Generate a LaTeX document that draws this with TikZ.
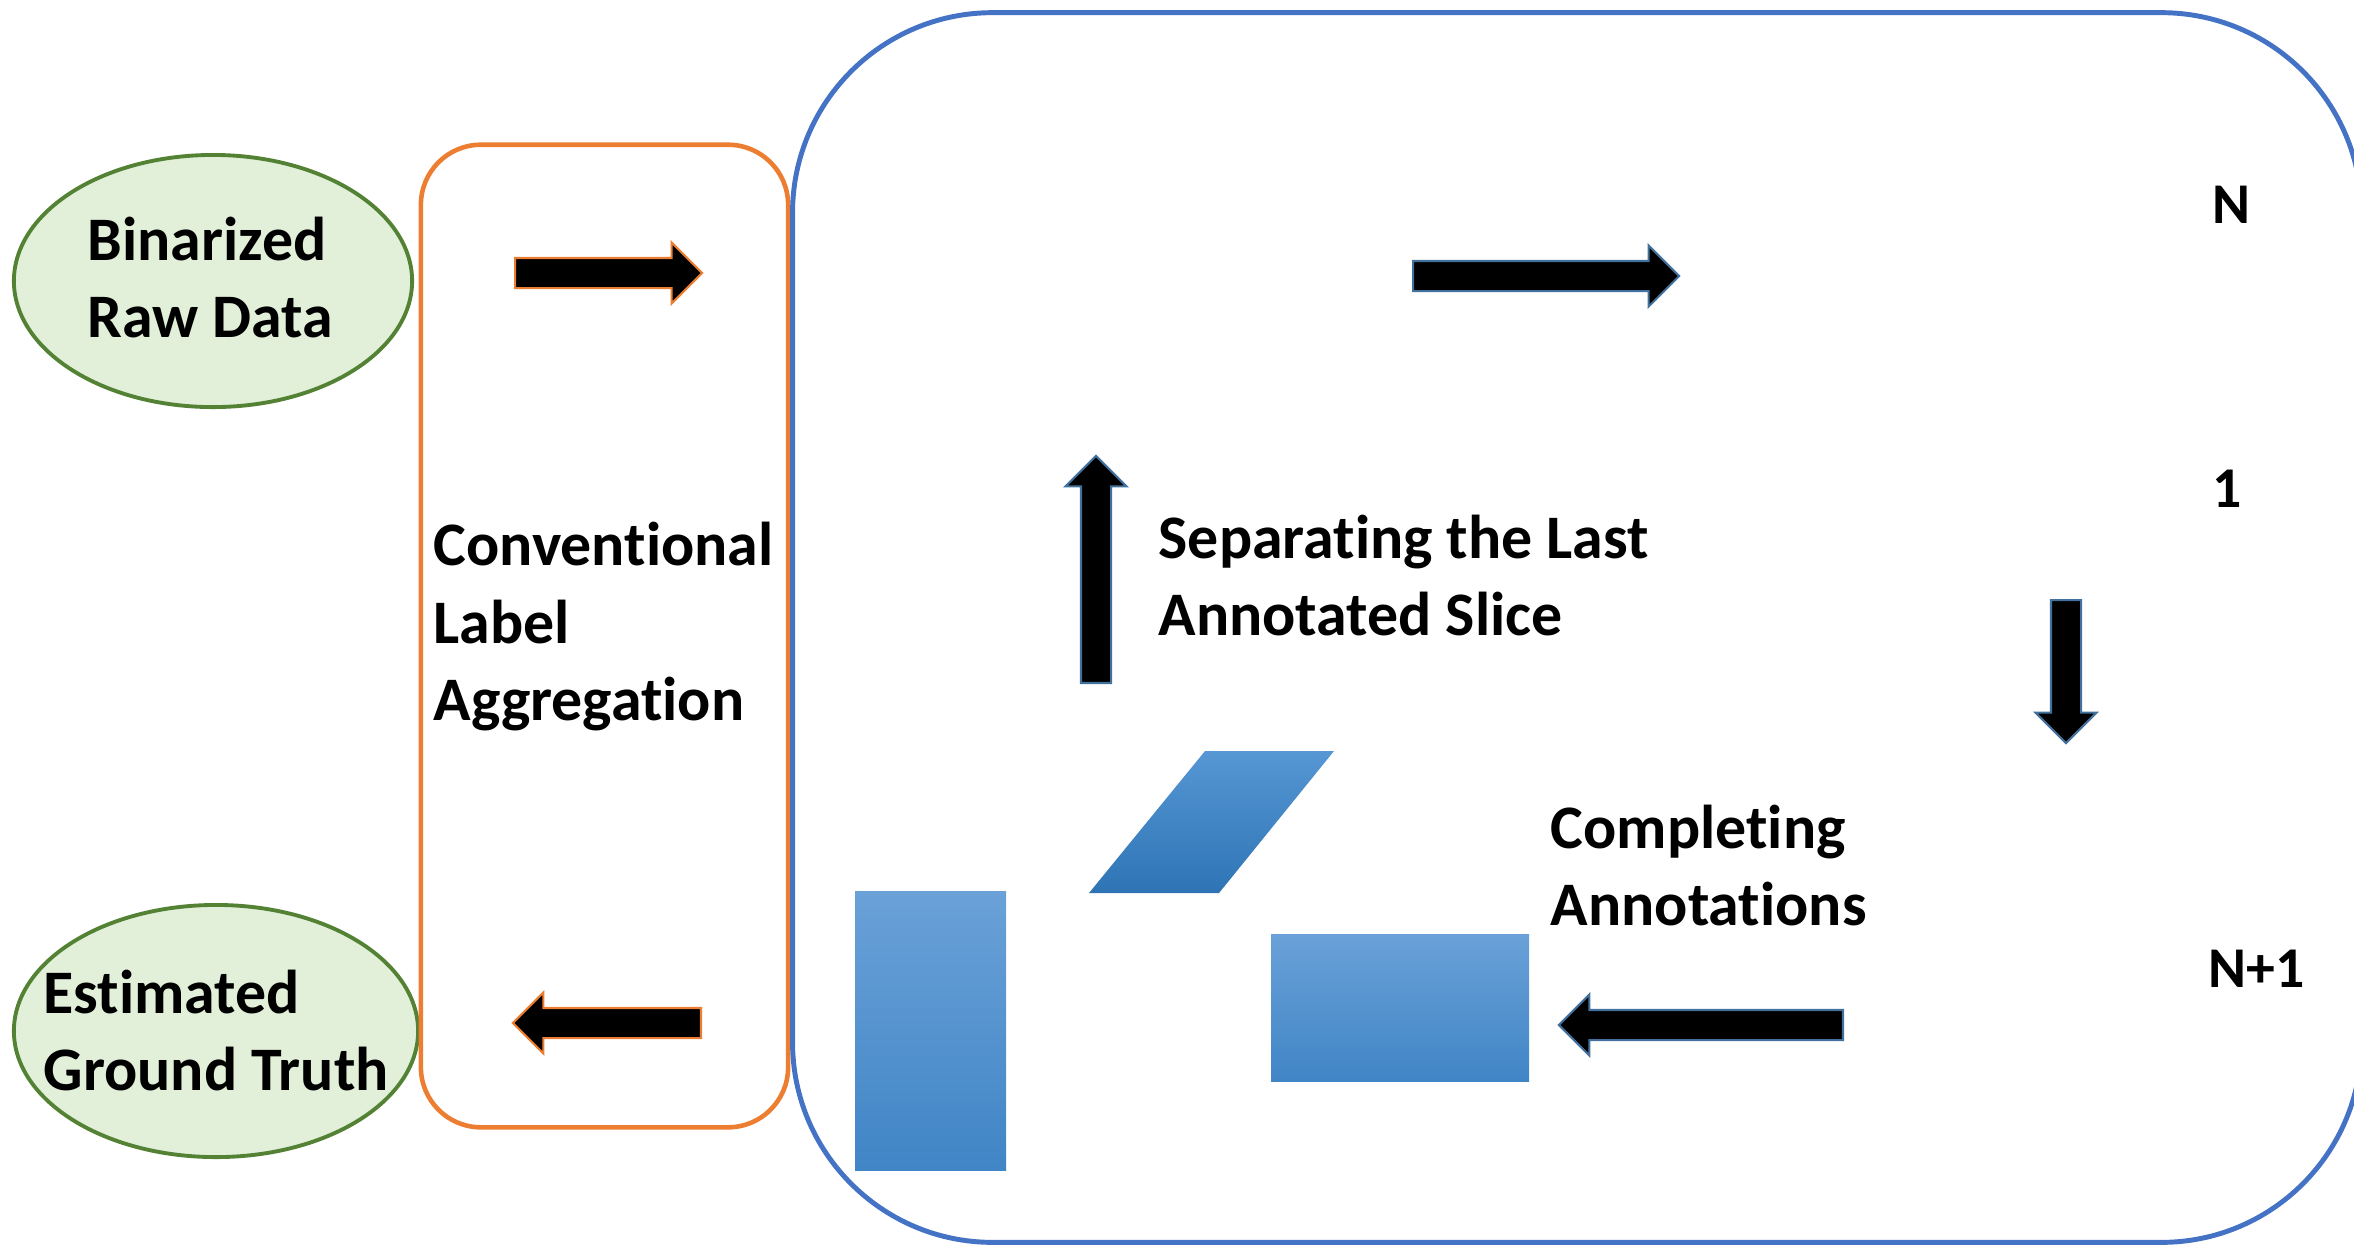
\documentclass[tikz,border=0pt]{standalone}
\usepackage{fontspec}
\setmainfont{Carlito}[Ligatures={NoCommon,NoContextual}]
\usetikzlibrary{shapes.geometric,shapes.arrows}
\definecolor{loopblue}{RGB}{68,114,196}
\definecolor{aggorange}{RGB}{237,125,49}
\definecolor{datagreen}{RGB}{84,130,53}
\definecolor{datafill}{RGB}{226,240,217}
\definecolor{arrowedge}{RGB}{65,113,156}
\definecolor{slicetop}{RGB}{106,161,216}
\definecolor{slicebot}{RGB}{64,133,198}
\definecolor{cuttop}{RGB}{86,151,212}
\definecolor{cutbot}{RGB}{46,116,181}
\begin{document}
\begin{tikzpicture}[x=0.01cm,y=-0.01cm,
    data/.style={ellipse,draw=datagreen,fill=datafill,line width=1.1pt,minimum width=3.98cm,minimum height=2.52cm,inner sep=0},
    lbl/.style={align=left,anchor=base west,inner sep=0,font=\bfseries\fontsize{17.6}{21.9}\selectfont},
    num/.style={anchor=base west,inner sep=0,font=\bfseries\fontsize{16.4}{19.7}\selectfont},
    blockarrow/.style={single arrow,fill=black,draw=arrowedge,line width=0.6pt,inner sep=0.14cm,single arrow head extend=0.155cm,anchor=tail}]
    \useasboundingbox (0,0) rectangle (2354,1244);
    \node[data] (raw) at (213,281) {};
    \node[data,minimum width=4.04cm] (truth) at (216,1031) {};
    \node[lbl] (rawtext) at (87,337) {Binarized\\Raw Data};
    \node[lbl] (truthtext) at (43,1090) {Estimated\\Ground Truth};
    \node[draw=aggorange,line width=1.3pt,rounded corners=0.6cm,minimum width=3.67cm,minimum height=9.82cm] (agg) at (604.5,636) {};
    \node[lbl] (aggtext) at (433,720) {Conventional\\Label\\Aggregation};
    \node[draw=loopblue,line width=1.4pt,rounded corners=2cm,minimum width=15.68cm,minimum height=12.29cm] (loop) at (1577,627.5) {};
    \node[blockarrow,draw=aggorange,minimum height=1.87cm] (toagg) at (514,273) {};
    \node[blockarrow,draw=aggorange,rotate=180,minimum height=1.88cm] (fromagg) at (702,1023) {};
    \node[blockarrow,minimum height=2.66cm] (toslice) at (1412,276) {};
    \node[blockarrow,rotate=-90,minimum height=1.43cm] (toone) at (2066,599) {};
    \node[blockarrow,rotate=180,minimum height=2.84cm] (complete) at (1844,1025) {};
    \node[blockarrow,rotate=90,minimum height=2.27cm] (separate) at (1096,684) {};
    \node[lbl] (septext) at (1158,635) {Separating the Last\\Annotated Slice};
    \node[lbl] (comptext) at (1550,925) {Completing\\Annotations};
    \node[num] (nlabel) at (2212,223) {N};
    \node[num] (onelabel) at (2212,507) {1};
    \node[num] (nextlabel) at (2208,987) {N+1};
    \shade[top color=slicetop,bottom color=slicebot] (855,891) rectangle (1006,1170);
    \shade[top color=slicetop,bottom color=slicebot] (1271,934) rectangle (1529,1081);
    \shade[top color=cuttop,bottom color=cutbot] (1205,751) -- (1334,751) -- (1219,893) -- (1089,893) -- cycle;
\end{tikzpicture}
\end{document}
